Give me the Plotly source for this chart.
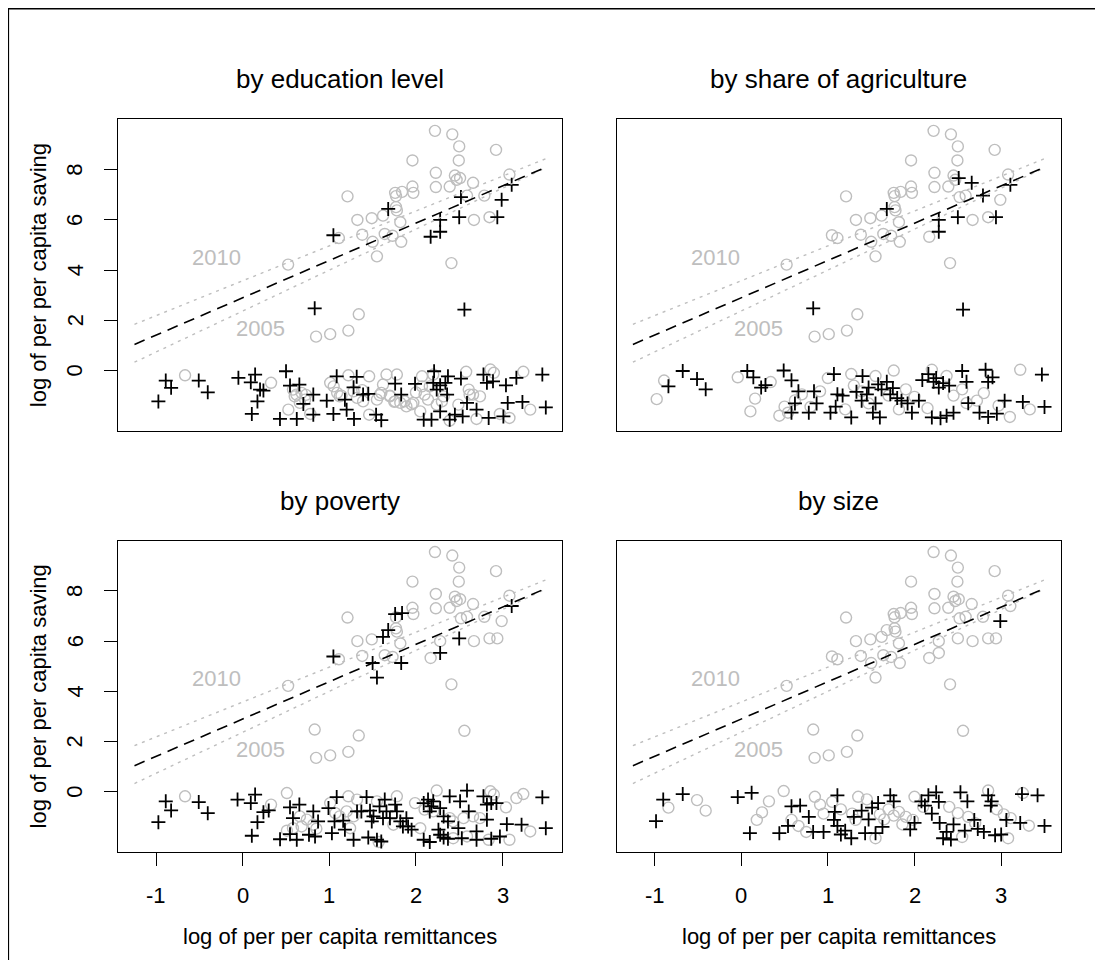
import plotly.graph_objects as go

W, H = 1103, 960
OFF = 8  # the page body margin shifts the figure by this many pixels
FONT = "Liberation Sans, Arial, sans-serif"
GRAY = "#BEBEBE"

TITLES = ["by education level", "by share of agriculture", "by poverty", "by size"]
X_LABEL = "log of per per capita remittances"
Y_LABEL = "log of per per capita saving"
X_TICKS = [-1, 0, 1, 2, 3]
X_TICK_TEXT = ["-1", "0", "1", "2", "3"]
Y_TICKS = [0, 2, 4, 6, 8]
Y_TICK_TEXT = ["0", "2", "4", "6", "8"]
X_RANGE = [-1.437, 3.687]
Y_RANGE = [-2.41, 10.01]

# fitted lines (pooled dashed black, 2010 / 2005 dotted grey)
LINE_X = [-1.25, 3.5]
LINE_POOL_Y = [1.04, 8.10]
LINE_2010_Y = [1.84, 8.44]
LINE_2005_Y = [0.33, 8.08]

# upper cluster of points (shared positions in every panel)
UP_X = [2.22, 2.42, 2.50, 2.925, 1.96, 2.495, 2.23, 2.45, 2.51, 2.47, 3.08, 2.66, 1.96, 2.23,
        2.39, 1.76, 1.84, 1.97, 1.77, 1.21, 2.59, 2.79, 1.77, 1.78, 1.324, 1.49, 1.62, 1.82,
        2.67, 2.85, 1.38, 1.64, 1.73, 1.50, 1.83, 1.11, 1.55, 2.41, 0.524, 1.34, 0.847, 1.01,
        1.22, 1.047, 1.68, 2.17, 2.28, 2.28, 2.50, 2.52, 2.99, 2.94, 3.106, 0.831, 2.56]
UP_Y = [9.55, 9.41, 8.93, 8.79, 8.37, 8.37, 7.88, 7.77, 7.67, 7.60, 7.81, 7.48, 7.33, 7.31,
        7.33, 7.08, 7.12, 7.08, 6.95, 6.94, 6.97, 6.97, 6.51, 6.38, 6.00, 6.07, 6.17, 5.91,
        6.00, 6.11, 5.41, 5.44, 5.37, 5.13, 5.13, 5.28, 4.55, 4.28, 4.22, 2.24, 1.35, 1.45,
        1.59, 5.39, 6.44, 5.33, 6.00, 5.53, 6.11, 6.91, 6.80, 6.11, 7.40, 2.48, 2.43]
# which of the upper points are drawn as '+' in each panel
UP_PLUS_EDU = [43, 44, 45, 46, 47, 48, 49, 50, 51, 52, 53, 54]
UP_PLUS_AGR = [44, 8, 11, 21, 48, 46, 47, 51, 52, 53, 54]
UP_PLUS_POV = [43, 15, 16, 44, 26, 33, 36, 34, 47, 48, 52]
UP_PLUS_SIZE = [50]

# ---- lower band: by education level ----
EDU_PLUS_X = [-0.974, -0.889, -0.827, -0.508, -0.404, -0.05, 0.093, 0.143, 0.239, 0.17, 0.105,
              0.50, 0.546, 0.654, 0.43, 0.624, 0.70, 0.815, 0.815, 0.97, 1.047, 1.085, 1.18,
              1.20, 1.285, 1.316, 1.45, 1.54, 1.60, 1.76, 1.83, 1.99, 2.09, 2.18, 2.21, 2.28,
              2.37, 2.39, 2.52, 2.54, 2.59, 2.70, 2.78, 2.82, 2.89, 2.84, 3.04, 3.16, 3.06,
              3.23, 3.46, 3.50, 3.01, 2.28, 2.45, 1.28, 1.39, 2.20, 2.34, 2.24, 2.36, 0.20]
EDU_PLUS_Y = [-1.23, -0.40, -0.69, -0.40, -0.87, -0.29, -0.47, -0.16, -0.80, -1.23, -1.73,
              -0.03, -0.60, -0.56, -1.93, -1.93, -1.33, -0.96, -1.76, -1.20, -1.73, -0.23, -1.16,
              -1.56, -1.93, -0.25, -0.93, -1.76, -1.98, -0.52, -0.96, -0.53, -1.96, -1.96, -0.03,
              -0.59, -0.23, -1.96, -0.32, -1.83, -1.29, -1.56, -0.16, -0.49, -0.43, -1.89, -0.59,
              -0.29, -1.29, -1.25, -0.16, -1.47, -1.83, -1.63, -1.76, -0.67, -0.96, -0.49, -0.49,
              -0.76, -0.96, -0.76]
EDU_CIRC_X = [-0.666, 0.327, 0.62, 0.68, 0.60, 0.527, 0.78, 1.01, 1.22, 1.09, 1.32, 1.46, 1.46,
              1.66, 1.78, 1.62, 1.55, 1.82, 1.89, 2.07, 2.20, 2.16, 2.10, 2.32, 2.49, 2.58, 2.61,
              2.66, 2.74, 2.86, 2.90, 3.24, 3.32, 3.08, 2.70, 2.39, 2.97, 2.05, 2.24, 0.73, 1.14,
              1.38, 1.58, 1.70, 1.75, 1.95, 2.00, 1.05, 1.12, 1.28, 1.39, 1.60, 1.70, 1.76, 1.87,
              1.97, 2.07, 2.14, 2.30, 2.62, 0.66, 0.72, 0.58]
EDU_CIRC_Y = [-0.19, -0.49, -0.96, -0.89, -1.03, -1.56, -1.73, -0.49, -0.19, -0.89, -1.09, -0.23,
              -1.76, -0.16, -0.16, -0.56, -1.16, -1.29, -1.43, -0.23, -0.16, -0.63, -0.96, -1.03,
              -1.36, -0.05, -0.76, -0.96, -1.03, 0.04, -0.09, -0.05, -1.56, -1.89, -1.93, -2.00,
              -1.73, -1.63, -1.36, -0.97, -1.00, -0.78, -0.98, -1.00, -1.25, -1.35, -0.87, -0.63,
              -1.03, -0.83, -1.23, -0.89, -1.03, -1.23, -1.23, -1.29, -0.63, -1.16, -1.23, -0.96,
              -1.29, -1.16, -0.76]

# ---- lower band: by share of agriculture ----
AGR_PLUS_X = [-0.84, -0.675, -0.51, -0.41, 0.07, 0.14, 0.23, 0.28, 0.49, 0.58, 0.66, 0.62, 0.58,
              0.84, 0.87, 0.78, 1.07, 1.11, 1.09, 1.03, 1.27, 1.40, 1.47, 1.39, 1.55, 1.52, 1.62,
              1.68, 1.72, 1.80, 1.85, 1.92, 1.97, 2.09, 2.16, 2.22, 2.28, 2.20, 2.30, 2.37, 2.45,
              2.55, 2.60, 2.75, 2.82, 2.85, 2.90, 2.95, 3.04, 3.25, 3.47, 3.50, 1.17, 1.60, 2.05,
              2.40, 2.62, 1.33, 1.45, 1.58, 1.75, 2.25, 2.33, 2.85]
AGR_PLUS_Y = [-0.63, -0.02, -0.34, -0.75, -0.02, -0.27, -0.68, -0.58, 0.00, -0.39, -0.83, -1.31,
              -1.68, -0.83, -1.31, -1.68, -0.14, -0.95, -1.44, -1.68, -1.87, -0.22, -0.68, -1.20,
              -1.31, -1.68, -0.75, -0.45, -0.95, -1.10, -1.20, -1.31, -1.68, -0.38, -0.14, -0.45,
              -0.68, -1.87, -1.90, -1.80, -1.68, -0.02, -0.45, -1.68, 0.03, -0.45, -0.27, -1.72,
              -1.20, -1.25, -0.16, -1.45, -1.00, -1.87, -1.20, -0.60, -1.30, -0.85, -0.95, -0.55,
              -0.70, -0.30, -0.50, -1.85]
AGR_CIRC_X = [-0.975, -0.89, -0.04, 0.106, 0.16, 0.34, 0.44, 0.54, 0.50, 0.62, 0.70, 0.91, 1.27,
              1.39, 1.47, 1.55, 1.76, 1.70, 1.90, 2.00, 2.20, 2.37, 2.45, 2.60, 2.72, 2.80, 2.97,
              3.10, 3.22, 3.33, 0.80, 1.20, 1.30, 1.82, 2.15, 2.55, 1.00]
AGR_CIRC_Y = [-1.14, -0.40, -0.27, -1.63, -1.12, -0.46, -1.80, -1.68, -1.44, -1.19, -0.95, -0.83,
              -0.14, -0.83, -1.31, -0.22, 0.00, -1.00, -0.75, -1.05, 0.03, -0.22, -1.00, -1.30,
              -1.20, -0.90, -1.40, -1.85, 0.03, -1.55, -1.45, -1.55, -0.60, -1.55, -1.50, -0.75,
              -0.30]

# ---- lower band: by poverty ----
POV_PLUS_X = [-0.974, -0.889, -0.827, -0.508, -0.404, -0.06, 0.093, 0.143, 0.17, 0.105, 0.239,
              0.30, 0.431, 0.546, 0.654, 0.58, 0.546, 0.624, 0.815, 0.765, 0.835, 0.87, 0.99,
              1.03, 1.06, 1.085, 1.16, 1.18, 1.28, 1.32, 1.43, 1.37, 1.47, 1.51, 1.49, 1.45,
              1.55, 1.60, 1.58, 1.64, 1.66, 1.62, 1.70, 1.76, 1.78, 1.82, 1.85, 1.91, 1.95, 1.89,
              2.09, 2.14, 2.18, 2.16, 2.20, 2.28, 2.32, 2.37, 2.26, 2.28, 2.32, 2.37, 2.09, 2.16,
              2.39, 2.51, 2.59, 2.61, 2.49, 2.53, 2.70, 2.70, 2.78, 2.82, 2.87, 2.93, 2.82, 2.87,
              2.97, 3.05, 3.22, 3.46, 3.50]
POV_PLUS_Y = [-1.21, -0.38, -0.74, -0.41, -0.85, -0.31, -0.45, -0.11, -1.21, -1.75, -0.81, -0.74,
              -1.89, -0.62, -0.51, -1.05, -1.69, -1.91, -0.78, -1.71, -1.78, -1.18, -0.65, -1.65,
              -1.18, -0.21, -1.15, -1.51, -1.91, -0.78, -0.21, -0.78, -0.75, -0.98, -1.18, -1.82,
              -1.91, -1.98, -0.58, -0.31, -0.78, -1.05, -1.05, -0.51, -0.78, -1.18, -1.38, -1.38,
              -1.51, -1.05, -0.45, -0.31, -0.58, -0.78, -0.38, -0.65, -0.98, -1.18, -1.51, -1.71,
              -1.82, -1.87, -1.91, -2.00, -0.18, -0.38, 0.05, -0.78, -1.45, -1.85, -1.58, -1.91,
              -0.18, -0.51, -0.45, -0.45, -1.11, -1.87, -1.78, -1.29, -1.31, -0.22, -1.45]
POV_CIRC_X = [-0.666, 0.327, 0.51, 0.66, 0.74, 0.68, 0.58, 0.51, 0.815, 0.85, 1.01, 1.07, 1.12,
              1.22, 1.32, 1.20, 1.28, 1.24, 1.55, 1.57, 1.78, 1.74, 1.99, 2.05, 2.10, 2.24, 2.20,
              2.39, 2.43, 2.55, 2.66, 2.74, 2.86, 2.90, 3.04, 3.16, 3.24, 3.32, 3.08, 2.84, 2.59,
              2.43]
POV_CIRC_Y = [-0.18, -0.51, -0.05, -0.98, -1.11, -1.38, -1.45, -1.55, -1.31, -1.47, -0.45, -0.85,
              -0.98, -0.18, -0.31, -0.78, -0.98, -1.45, -0.38, -2.00, -0.18, -1.31, -0.45, -1.45,
              -0.71, 0.05, -0.78, -1.05, -1.18, -1.05, -0.98, -1.05, 0.02, -0.11, -0.62, -0.25,
              -0.09, -1.58, -1.91, -1.91, -1.78, -1.85]

# ---- lower band: by size ----
SIZE_PLUS_X = [-0.983, -0.90, -0.675, -0.04, 0.12, 0.10, 0.44, 0.54, 0.58, 0.78, 0.83, 1.11,
               1.07, 1.11, 1.27, 1.39, 1.51, 1.43, 1.55, 1.72, 1.76, 2.00, 2.08, 2.16, 2.25, 2.20,
               2.29, 2.37, 2.33, 2.53, 2.61, 2.69, 2.73, 2.85, 2.89, 2.93, 3.06, 3.22, 3.24, 3.50,
               3.42, 0.95, 1.20, 1.63, 1.95, 2.45, 2.80, 0.68, 1.30, 1.08, 1.15, 1.47, 1.58, 2.12,
               2.28, 2.42, 2.58, 2.88, 3.00]
SIZE_PLUS_Y = [-1.17, -0.31, -0.09, -0.21, -0.04, -1.65, -1.65, -1.36, -0.58, -1.00, -1.60,
               -0.14, -1.12, -1.36, -1.85, -0.75, -0.63, -1.65, -1.65, -0.14, -0.38, -1.24, -0.38,
               -0.14, -0.02, -0.87, -1.24, -1.60, -1.85, -0.02, -0.38, -1.12, -1.48, -0.14, -0.38,
               -1.73, -1.12, -1.24, -0.09, -1.36, -0.14, -1.60, -1.55, -1.40, -1.50, -1.30, -1.60,
               -0.55, -1.00, -0.80, -1.70, -1.10, -0.45, -0.55, -0.40, -1.90, -1.55, -0.55, -1.70]
SIZE_CIRC_X = [-0.84, -0.51, -0.41, 0.32, 0.24, 0.18, 0.49, 0.58, 0.66, 0.91, 0.95, 1.15, 1.28,
               1.32, 1.70, 1.76, 1.82, 1.90, 1.98, 1.86, 1.55, 2.50, 2.62, 2.70, 2.95, 3.03, 3.11,
               3.32, 3.08, 1.45, 1.60, 1.65, 2.40, 2.10, 1.05, 0.75, 2.55, 2.85, 3.25, 1.35, 2.00,
               0.85]
SIZE_CIRC_Y = [-0.63, -0.33, -0.75, -0.38, -0.82, -1.12, 0.03, -1.12, -1.36, -0.51, -0.87, -0.70,
               -0.87, -1.12, -0.70, -0.95, -0.80, -1.00, -1.12, -1.30, -1.85, -0.85, -1.00, -1.25,
               -0.70, -0.90, -1.05, -1.35, -1.85, -0.30, -0.90, -1.10, -0.60, -0.60, -0.40, -1.60,
               -1.80, 0.05, -0.05, -0.20, -0.20, -0.20]

LOW_PLUS_X = [EDU_PLUS_X, AGR_PLUS_X, POV_PLUS_X, SIZE_PLUS_X]
LOW_PLUS_Y = [EDU_PLUS_Y, AGR_PLUS_Y, POV_PLUS_Y, SIZE_PLUS_Y]
LOW_CIRC_X = [EDU_CIRC_X, AGR_CIRC_X, POV_CIRC_X, SIZE_CIRC_X]
LOW_CIRC_Y = [EDU_CIRC_Y, AGR_CIRC_Y, POV_CIRC_Y, SIZE_CIRC_Y]
UP_PLUS = [UP_PLUS_EDU, UP_PLUS_AGR, UP_PLUS_POV, UP_PLUS_SIZE]

# plot boxes in page pixels (left, top, right, bottom)
BOXES = [(118.3, 119.3, 562.0, 431.0), (616.7, 119.3, 1060.7, 431.0),
         (118.3, 540.5, 562.0, 852.3), (616.7, 540.5, 1060.7, 852.3)]


def fx(px):
    return (px - OFF) / W


def fy(py):
    return 1 - (py - OFF) / H


fig = go.Figure()
layout = dict(width=W, height=H, margin=dict(l=0, r=0, t=0, b=0), paper_bgcolor="white",
              plot_bgcolor="white", showlegend=False, font=dict(family=FONT, color="black"))
annotations = []
for i, (l, t, r, b) in enumerate(BOXES):
    n = "" if i == 0 else str(i + 1)
    xa, ya = "x" + n, "y" + n
    left = i in (0, 2)
    bottom = i in (2, 3)
    layout["xaxis" + n] = dict(domain=[fx(l), fx(r)], range=X_RANGE, anchor=ya, showgrid=False,
                               zeroline=False, showline=True, mirror=True, linecolor="black",
                               linewidth=1.3, tickvals=X_TICKS, ticks="outside" if bottom else "",
                               ticklen=13, tickwidth=1.3, tickcolor="black",
                               showticklabels=False)
    layout["yaxis" + n] = dict(domain=[fy(b), fy(t)], range=Y_RANGE, anchor=xa,
                               showgrid=False, zeroline=False, showline=True, mirror=True,
                               linecolor="black", linewidth=1.3, tickvals=Y_TICKS,
                               ticks="outside" if left else "", ticklen=13, tickwidth=1.3,
                               tickcolor="black", showticklabels=False)
    ups = UP_PLUS[i]
    cx = [UP_X[k] for k in range(len(UP_X)) if k not in ups] + LOW_CIRC_X[i]
    cy = [UP_Y[k] for k in range(len(UP_Y)) if k not in ups] + LOW_CIRC_Y[i]
    px = [UP_X[k] for k in ups] + LOW_PLUS_X[i]
    py = [UP_Y[k] for k in ups] + LOW_PLUS_Y[i]
    fig.add_trace(go.Scatter(x=cx, y=cy, mode="markers", xaxis=xa, yaxis=ya,
                             marker=dict(symbol="circle-open", size=11, color=GRAY,
                                         line=dict(width=1.4, color=GRAY))))
    fig.add_trace(go.Scatter(x=px, y=py, mode="markers", xaxis=xa, yaxis=ya,
                             marker=dict(symbol="cross-thin-open", size=10, color="black",
                                         line=dict(width=1.8, color="black"))))
    fig.add_trace(go.Scatter(x=LINE_X, y=LINE_2010_Y, mode="lines", xaxis=xa, yaxis=ya,
                             line=dict(color=GRAY, width=1.4, dash="3px,5px")))
    fig.add_trace(go.Scatter(x=LINE_X, y=LINE_2005_Y, mode="lines", xaxis=xa, yaxis=ya,
                             line=dict(color=GRAY, width=1.4, dash="3px,5px")))
    fig.add_trace(go.Scatter(x=LINE_X, y=LINE_POOL_Y, mode="lines", xaxis=xa, yaxis=ya,
                             line=dict(color="black", width=1.6, dash="11px,7px")))
    annotations.append(dict(x=-0.30, y=4.50, xref=xa, yref=ya, text="2010", showarrow=False,
                            font=dict(size=22, color=GRAY, family=FONT)))
    annotations.append(dict(x=0.20, y=1.68, xref=xa, yref=ya, text="2005", showarrow=False,
                            font=dict(size=22, color=GRAY, family=FONT)))
    annotations.append(dict(x=fx((l + r) / 2), y=fy(t - 40), xref="paper", yref="paper",
                            text=TITLES[i], showarrow=False, xanchor="center", yanchor="middle",
                            font=dict(size=26, family=FONT)))
    if bottom:
        for tv, tt in zip(X_TICKS, X_TICK_TEXT):
            annotations.append(dict(x=tv, y=fy(895.7), xref=xa, yref="paper", text=tt,
                                    showarrow=False, xanchor="center", yanchor="middle",
                                    font=dict(size=22, family=FONT)))
        annotations.append(dict(x=fx((l + r) / 2), y=fy(936.5), xref="paper", yref="paper",
                                text=X_LABEL, showarrow=False, xanchor="center",
                                yanchor="middle", font=dict(size=22, family=FONT)))
    if left:
        for tv, tt in zip(Y_TICKS, Y_TICK_TEXT):
            annotations.append(dict(x=fx(75), y=tv, xref="paper", yref=ya, text=tt,
                                    showarrow=False, textangle=-90, xanchor="center",
                                    yanchor="middle", font=dict(size=22, family=FONT)))
        annotations.append(dict(x=fx(38), y=fy((t + b) / 2), xref="paper", yref="paper",
                                text=Y_LABEL, showarrow=False, textangle=-90,
                                xanchor="center", yanchor="middle",
                                font=dict(size=22, family=FONT)))

layout["annotations"] = annotations
layout["shapes"] = [dict(type="rect", xref="paper", yref="paper", x0=fx(8.3), x1=1.02,
                         y0=-0.02, y1=fy(8.8), line=dict(color="black", width=1.6))]
fig.update_layout(**layout)
fig.write_html("out.html")
